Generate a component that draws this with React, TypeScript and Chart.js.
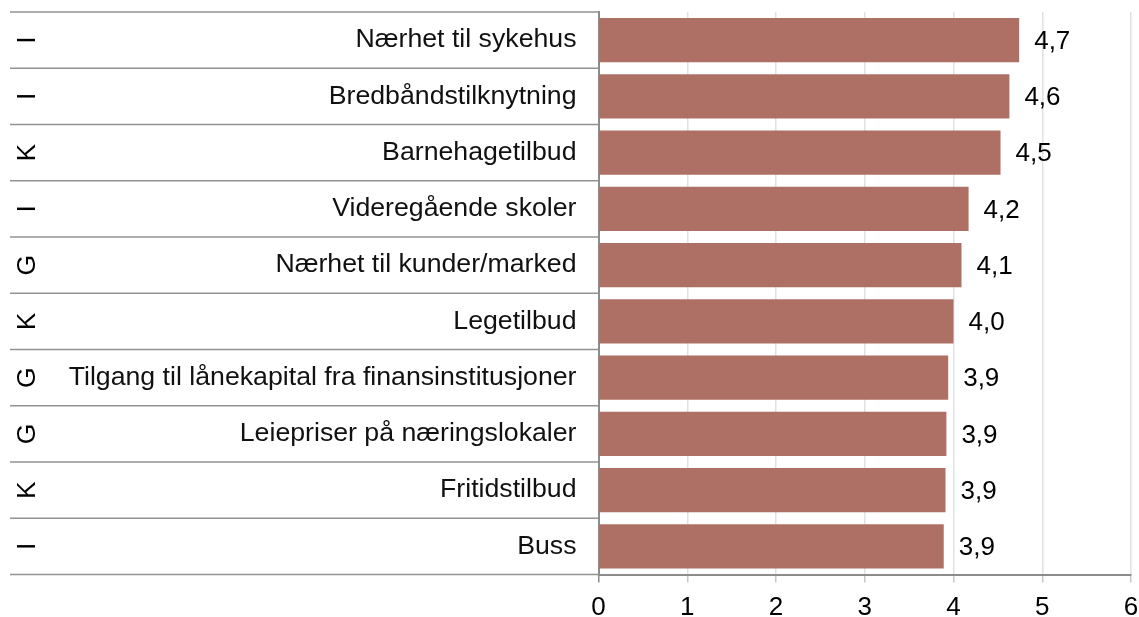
import React, { useEffect, useRef } from "react";
import { Chart, registerables } from "chart.js";

Chart.register(...registerables);

const categories = [
  "Nærhet til sykehus",
  "Bredbåndstilknytning",
  "Barnehagetilbud",
  "Videregående skoler",
  "Nærhet til kunder/marked",
  "Legetilbud",
  "Tilgang til lånekapital fra finansinstitusjoner",
  "Leiepriser på næringslokaler",
  "Fritidstilbud",
  "Buss",
];
const groups = ["I", "I", "K", "I", "G", "K", "G", "G", "K", "I"];
const values = [4.74, 4.63, 4.53, 4.17, 4.09, 4.0, 3.94, 3.92, 3.91, 3.89];
const xTicks = [0, 1, 2, 3, 4, 5, 6];

const FONT = "'Liberation Sans', Arial, sans-serif";
const BAR = "#ae7065";
const SEP = "#929292";

const overlay = {
  id: "overlay",
  afterDraw(chart: any) {
    const { ctx, chartArea } = chart;
    const y = chart.scales.y;
    const n = categories.length;
    const step = (chartArea.bottom - chartArea.top) / n;
    ctx.save();
    ctx.strokeStyle = SEP;
    ctx.lineWidth = 1.5;
    for (let i = 0; i <= n; i++) {
      const yy = chartArea.top + i * step;
      ctx.beginPath();
      ctx.moveTo(10, yy);
      ctx.lineTo(chartArea.left, yy);
      ctx.stroke();
    }
    ctx.fillStyle = "#000";
    ctx.font = `26.5px ${FONT}`;
    ctx.textAlign = "center";
    ctx.textBaseline = "middle";
    groups.forEach((g, i) => {
      const cy = y.getPixelForValue(i);
      ctx.save();
      ctx.translate(27, cy);
      ctx.rotate(-Math.PI / 2);
      ctx.fillText(g, 0, 1);
      ctx.restore();
    });
    const meta = chart.getDatasetMeta(0);
    ctx.textAlign = "left";
    ctx.font = `26px ${FONT}`;
    meta.data.forEach((bar: any, i: number) => {
      const txt = values[i].toFixed(1).replace(".", ",");
      ctx.fillText(txt, bar.x + 15, bar.y + 1.5);
    });
    ctx.restore();
  },
};

export default function App() {
  const ref = useRef<HTMLCanvasElement>(null);
  useEffect(() => {
    document.body.style.margin = "0";
    Chart.defaults.font.family = FONT;
    const chart = new Chart(ref.current!, {
      type: "bar",
      data: {
        labels: categories,
        datasets: [
          {
            data: values,
            backgroundColor: BAR,
            borderWidth: 0,
            barPercentage: 0.79,
            categoryPercentage: 1,
          },
        ],
      },
      options: {
        indexAxis: "y",
        animation: false,
        responsive: false,
        maintainAspectRatio: false,
        layout: { padding: { top: 12, left: 0, right: 8, bottom: 0 } },
        plugins: { legend: { display: false }, tooltip: { enabled: false } },
        scales: {
          x: {
            min: 0,
            max: 6,
            afterBuildTicks(scale: any) {
              scale.ticks = xTicks.map((v) => ({ value: v }));
            },
            afterFit(scale: any) {
              scale.height = 42.5;
              scale.paddingLeft = 0;
              scale.paddingRight = 0;
            },
            grid: {
              color: "#dde3e3",
              lineWidth: 1.5,
              tickColor: (c: any) => (c.index === 0 ? "#8c8c8c" : "#c4c9c9"),
              tickLength: 8,
            },
            border: { color: "#8c8c8c", width: 2 },
            ticks: {
              color: "#000",
              font: { size: 26, family: FONT, lineHeight: 1 },
              padding: 12,
            },
          },
          y: {
            afterFit(scale: any) {
              scale.width = 598.5;
              scale.paddingTop = 0;
              scale.paddingBottom = 0;
            },
            grid: { display: false, drawTicks: false },
            border: { color: "#8c8c8c", width: 2 },
            ticks: {
              color: "#111",
              font: { size: 26.7, family: FONT, lineHeight: 1 },
              padding: 22,
            },
          },
        },
      },
      plugins: [overlay],
    });
    return () => chart.destroy();
  }, []);
  return (
    <div style={{ position: "fixed", left: 0, top: 0, width: 1139, height: 617, background: "#fff" }}>
      <canvas ref={ref} width={1139} height={617} style={{ width: 1139, height: 617 }} />
    </div>
  );
}
